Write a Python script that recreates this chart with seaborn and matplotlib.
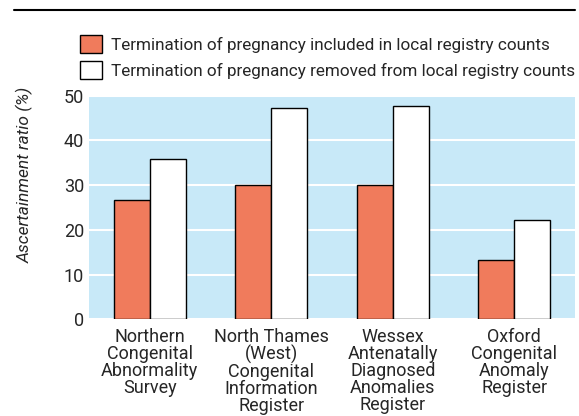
import pandas as pd
import matplotlib.pyplot as plt
import seaborn as sns
from matplotlib.patches import Patch

# Data
registries = ["Northern\nCongenital\nAbnormality\nSurvey",
              "North Thames\n(West)\nCongenital\nInformation\nRegister",
              "Wessex\nAntenatally\nDiagnosed\nAnomalies\nRegister",
              "Oxford\nCongenital\nAnomaly\nRegister"]
series = ["Termination of pregnancy included in local registry counts",
          "Termination of pregnancy removed from local registry counts"]
included = [26.7, 30.0, 30.0, 13.3]
removed = [35.8, 47.2, 47.6, 22.2]

df = pd.DataFrame({
    "registry": registries * 2,
    "series": [series[0]] * 4 + [series[1]] * 4,
    "ratio": included + removed,
})

sns.set_style("white")
plt.rcParams["font.family"] = ["Roboto", "DejaVu Sans"]

colors = ["#F07B5C", "#FFFFFF"]

fig = plt.figure(figsize=(5.79, 4.16), dpi=100)
ax = fig.add_axes([0.1537, 0.2325, 0.8393, 0.5375])
ax.set_facecolor("#C8E9F8")

sns.barplot(data=df, x="registry", y="ratio", hue="series", palette=colors,
            saturation=1, width=0.59, edgecolor="black", linewidth=1, ax=ax,
            legend=False, zorder=3)

ax.set_ylim(0, 50)
ax.set_xlim(-0.5, 3.5)
ax.set_yticks([0, 10, 20, 30, 40, 50])
ax.yaxis.grid(True, color="white", linewidth=1.5, zorder=1)
ax.set_axisbelow(True)
for s in ax.spines.values():
    s.set_visible(False)
ax.tick_params(axis="both", length=0, labelsize=13)
ax.tick_params(axis="x", pad=6)
for lab in ax.get_xticklabels():
    lab.set_linespacing(0.93)
    lab.set_verticalalignment("top")
ax.set_xlabel("")
ax.set_ylabel("")

fig.text(25 / 579, 1 - 175 / 416, "Ascertainment ratio (%)", rotation=90,
         style="italic", fontsize=12.5, ha="center", va="center")

# top rule
fig.add_artist(plt.Line2D([14 / 579, 575 / 579], [1 - 10 / 416, 1 - 10 / 416],
                          color="black", linewidth=1.5))

handles = [Patch(facecolor=colors[0], edgecolor="black", linewidth=1),
           Patch(facecolor=colors[1], edgecolor="black", linewidth=1)]
fig.legend(handles, series, loc="upper left", bbox_to_anchor=(80 / 579, 1 - 35 / 416),
           frameon=False, fontsize=12.3, handlelength=1.3, handleheight=1.2,
           handletextpad=0.5, labelspacing=0.5, borderaxespad=0, borderpad=0)

fig.savefig("out.png", dpi=100)
